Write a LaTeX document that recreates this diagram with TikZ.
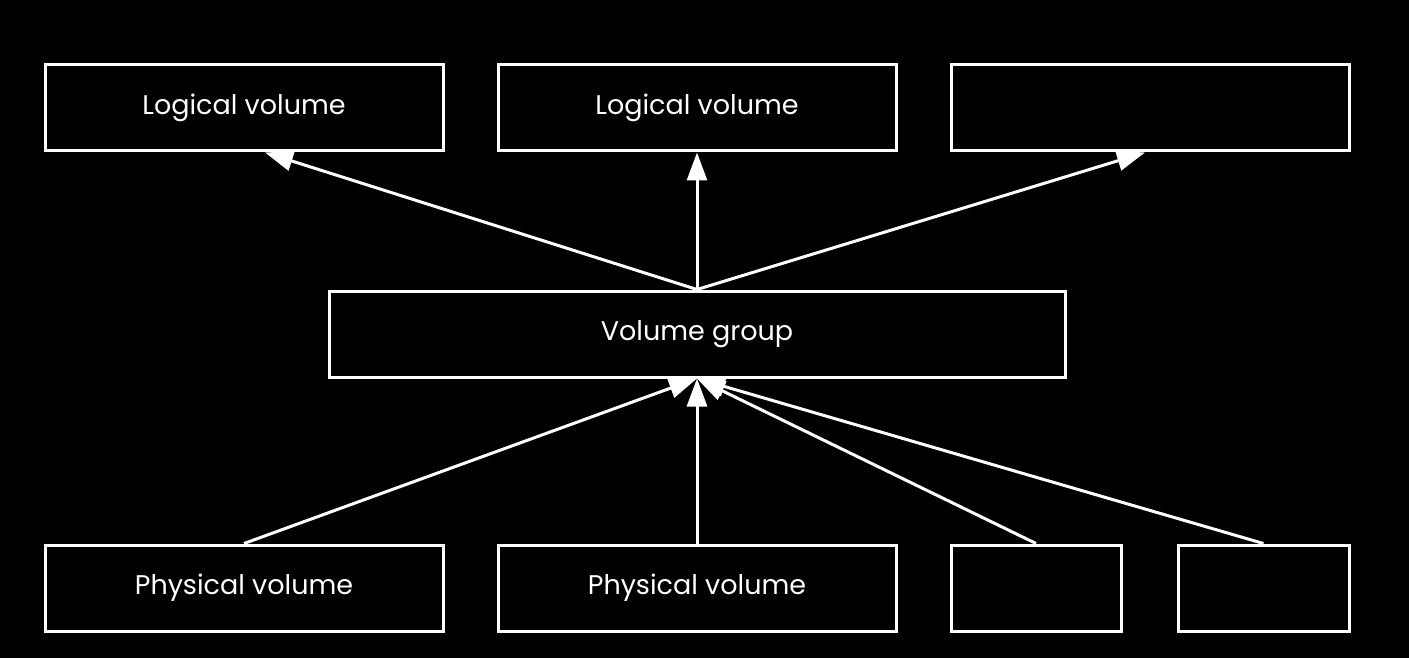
\documentclass[tikz,border=0pt]{standalone}
\usepackage{fontspec}
\setmainfont{Poppins}
\usetikzlibrary{arrows.meta}
\begin{document}
\begin{tikzpicture}[x=1pt,y=-1pt,
  box/.style={draw=white,line width=3pt,fill=black,text=white,inner sep=0pt,
    font=\fontsize{27}{32}\selectfont},
  conn/.style={draw=white,line width=3pt,-{Triangle[length=28pt,width=20pt]}}]
\fill[black] (0,0) rectangle (1409,658);
\useasboundingbox (0,0) rectangle (1409,658);
\node[box,minimum width=398pt,minimum height=86pt] (lv1) at (244,108) {Logical volume};
\node[box,minimum width=398pt,minimum height=86pt] (lv2) at (697,108) {Logical volume};
\node[box,minimum width=398pt,minimum height=86pt] (lv3) at (1150,108) {};
\node[box,minimum width=736pt,minimum height=86pt] (vg) at (697,334) {Volume group};
\node[box,minimum width=398pt,minimum height=86pt] (pv1) at (244,588) {Physical volume};
\node[box,minimum width=398pt,minimum height=86pt] (pv2) at (697,588) {Physical volume};
\node[box,minimum width=170pt,minimum height=86pt] (pv3) at (1036,588) {};
\node[box,minimum width=171pt,minimum height=86pt] (pv4) at (1263.5,588) {};
\coordinate (vgt) at (vg.north);
\coordinate (vgb) at (vg.south);
\draw[conn] (vgt) -- (lv1.south -| 265,0);
\draw[conn] (vgt) -- (lv2.south);
\draw[conn] (vgt) -- (lv3.south -| 1145,0);
\draw[conn] (pv1.north) -- (vgb);
\draw[conn] (pv2.north) -- (vgb);
\draw[conn] (pv3.north) -- (vgb);
\draw[conn] (pv4.north) -- (vgb);
\end{tikzpicture}
\end{document}
